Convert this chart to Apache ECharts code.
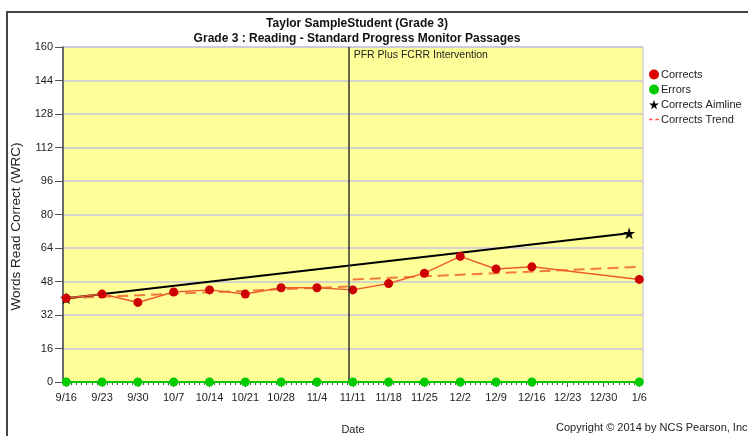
<!DOCTYPE html>
<html>
<head>
<meta charset="utf-8">
<script src="https://cdn.jsdelivr.net/npm/echarts@6/dist/echarts.min.js"></script>
<style>
  html, body { margin: 0; padding: 0; background: #fff; }
  #chart { width: 748px; height: 436px; }
</style>
</head>
<body>
<div id="chart"></div>
<script>
// weekly tick labels on the date axis
const weekDates = [
  '2013-09-16', '2013-09-23', '2013-09-30', '2013-10-07', '2013-10-14',
  '2013-10-21', '2013-10-28', '2013-11-04', '2013-11-11', '2013-11-18',
  '2013-11-25', '2013-12-02', '2013-12-09', '2013-12-16', '2013-12-23',
  '2013-12-30', '2014-01-06',
];
// probes
const correctsDates = [
  '2013-09-16', '2013-09-23', '2013-09-30', '2013-10-07', '2013-10-14',
  '2013-10-21', '2013-10-28', '2013-11-04', '2013-11-11', '2013-11-18',
  '2013-11-25', '2013-12-02', '2013-12-09', '2013-12-16', '2014-01-06',
];
const correctsValues = [40, 42, 38, 43, 44, 42, 45, 45, 44, 47, 52, 60, 54, 55, 49];
const errorsValues = [0, 0, 0, 0, 0, 0, 0, 0, 0, 0, 0, 0, 0, 0, 0];
// aimline and trend end points
const aimlineDates = ['2013-09-16', '2014-01-04'];
const aimlineValues = [40, 71];
const trendBaseDates = ['2013-09-16', '2013-11-10'];
const trendBaseValues = [40, 45.6];
const trendInterventionDates = ['2013-11-11', '2014-01-06'];
const trendInterventionValues = [49, 55];
const interventionDate = '2013-11-10';
const interventionLabel = 'PFR Plus FCRR Intervention';
// y axis
const yMin = 0;
const yMax = 160;
const yStep = 16;

// x is counted in days from the first week
const DAY = 24 * 3600 * 1000;
const t0 = +echarts.time.parse(weekDates[0]);
const dayOf = (s) => Math.round((+echarts.time.parse(s) - t0) / DAY);
const pairs = (dates, values) => dates.map((d, i) => [dayOf(d), values[i]]);

const lastDay = dayOf(weekDates[weekDates.length - 1]);
const xMin = -0.63;
const xMax = lastDay + 0.72;
const dailyTicks = [];
for (let d = 0; d <= lastDay; d++) dailyTicks.push(d);
const weekTicks = weekDates.map(dayOf);
const weekLabel = {};
weekDates.forEach((s) => {
  const p = s.split('-');
  weekLabel[dayOf(s)] = Number(p[1]) + '/' + Number(p[2]);
});

const STAR = 'path://M50,0 L61,35 L98,35 L68,57 L79,91 L50,70 L21,91 L32,57 L2,35 L39,35 Z';
const DASH = 'path://M0,0 H4 V1.6 H0 Z M7,0 H11 V1.6 H7 Z';
const FONT = 'Liberation Sans';

const chart = echarts.init(document.getElementById('chart'));
chart.setOption({
  animation: false,
  backgroundColor: '#fff',
  title: {
    text: 'Taylor SampleStudent (Grade 3)',
    subtext: 'Grade 3 : Reading - Standard Progress Monitor Passages',
    left: 352,
    top: 13,
    textAlign: 'center',
    itemGap: 3,
    textStyle: { fontFamily: FONT, fontSize: 12, fontWeight: 'bold', color: '#111' },
    subtextStyle: { fontFamily: FONT, fontSize: 12, fontWeight: 'bold', color: '#111' },
  },
  legend: {
    orient: 'vertical',
    left: 644,
    top: 64,
    itemGap: 4,
    itemWidth: 10,
    itemHeight: 10,
    textStyle: { fontFamily: FONT, fontSize: 11, color: '#222', padding: [0, 0, 0, -3] },
    data: [
      { name: 'Corrects', icon: 'circle', itemStyle: { color: '#dd0000' } },
      { name: 'Errors', icon: 'circle', itemStyle: { color: '#00cc00' } },
      { name: 'Corrects Aimline', icon: STAR, itemStyle: { color: '#000' } },
      { name: 'Corrects Trend', icon: DASH, itemStyle: { color: '#ff5050' } },
    ],
  },
  grid: {
    left: 63,
    right: 105,
    top: 47,
    bottom: 54,
    outerBoundsMode: 'none',
    show: true,
    backgroundColor: '#ffff99',
    borderColor: '#b8bcdc',
    borderWidth: 1,
  },
  xAxis: [
    {
      type: 'value',
      min: xMin,
      max: xMax,
      axisLine: { onZero: false, lineStyle: { color: '#555', width: 1 } },
      axisTick: { customValues: dailyTicks, length: 3, lineStyle: { color: '#555' } },
      axisLabel: { show: false },
      splitLine: { show: false },
    },
    {
      type: 'value',
      min: xMin,
      max: xMax,
      position: 'bottom',
      name: 'Date',
      nameLocation: 'middle',
      nameGap: 42,
      nameTextStyle: { fontFamily: FONT, fontSize: 11, color: '#222' },
      axisLine: { show: false, onZero: false },
      axisTick: { customValues: weekTicks, length: 5, lineStyle: { color: '#555' } },
      axisLabel: {
        customValues: weekTicks,
        margin: 10,
        fontFamily: FONT,
        fontSize: 11,
        color: '#222',
        formatter: (v) => weekLabel[Math.round(v)] || '',
      },
      splitLine: { show: false },
    },
  ],
  yAxis: {
    type: 'value',
    min: yMin,
    max: yMax,
    interval: yStep,
    name: 'Words Read Correct (WRC)',
    nameLocation: 'middle',
    nameGap: 36,
    nameTextStyle: { fontFamily: FONT, fontSize: 13.5, color: '#222', padding: [0, 0, 0, -24] },
    axisLine: { show: true, onZero: false, lineStyle: { color: '#444', width: 1.5 } },
    axisTick: { show: true, length: 8, lineStyle: { color: '#555' } },
    axisLabel: { fontFamily: FONT, fontSize: 11, color: '#222', margin: 10 },
    splitLine: { lineStyle: { color: '#c4c6dc', width: 1.5 } },
  },
  graphic: [
    {
      type: 'rect',
      silent: true,
      shape: { x: 7, y: 12, width: 800, height: 500 },
      style: { fill: 'none', stroke: '#444', lineWidth: 2 },
    },
    {
      type: 'text',
      left: 556,
      top: 422,
      style: {
        text: 'Copyright \u00a9 2014 by NCS Pearson, Inc',
        fontFamily: FONT,
        fontSize: 11,
        fill: '#222',
      },
    },
  ],
  series: [
    {
      name: 'Corrects Trend',
      type: 'line',
      data: pairs(trendBaseDates, trendBaseValues),
      symbol: 'none',
      lineStyle: { color: '#f27a3c', width: 2, type: [11, 6] },
      itemStyle: { color: '#ff5050' },
      z: 2,
    },
    {
      name: 'Corrects Trend',
      type: 'line',
      data: pairs(trendInterventionDates, trendInterventionValues),
      symbol: 'none',
      lineStyle: { color: '#f27a3c', width: 2, type: [11, 6] },
      itemStyle: { color: '#ff5050' },
      z: 2,
    },
    {
      name: 'Corrects Aimline',
      type: 'line',
      data: pairs(aimlineDates, aimlineValues),
      symbol: STAR,
      symbolSize: 12,
      showAllSymbol: true,
      lineStyle: { color: '#000', width: 2 },
      itemStyle: { color: '#000' },
      z: 3,
    },
    {
      name: 'Corrects',
      type: 'line',
      data: pairs(correctsDates, correctsValues),
      symbol: 'circle',
      symbolSize: 9,
      showAllSymbol: true,
      lineStyle: { color: '#ee5a30', width: 1.5 },
      itemStyle: { color: '#cc0000' },
      z: 4,
      markLine: {
        silent: true,
        symbol: 'none',
        label: { show: false },
        lineStyle: { color: '#333', width: 1.5, type: 'solid' },
        data: [{ xAxis: dayOf(interventionDate) + 0.3 }],
      },
      markPoint: {
        silent: true,
        symbol: 'rect',
        symbolSize: 1,
        itemStyle: { color: 'rgba(0,0,0,0)' },
        label: {
          show: true,
          position: [5, 3],
          align: 'left',
          verticalAlign: 'top',
          fontFamily: FONT,
          fontSize: 10.5,
          color: '#222',
          formatter: interventionLabel,
        },
        data: [{ coord: [dayOf(interventionDate) + 0.3, yMax] }],
      },
    },
    {
      name: 'Errors',
      type: 'line',
      data: pairs(correctsDates, errorsValues),
      symbol: 'circle',
      symbolSize: 9,
      showAllSymbol: true,
      lineStyle: { color: '#00cc00', width: 2 },
      itemStyle: { color: '#00cc00' },
      z: 5,
    },
  ],
});
</script>
</body>
</html>
